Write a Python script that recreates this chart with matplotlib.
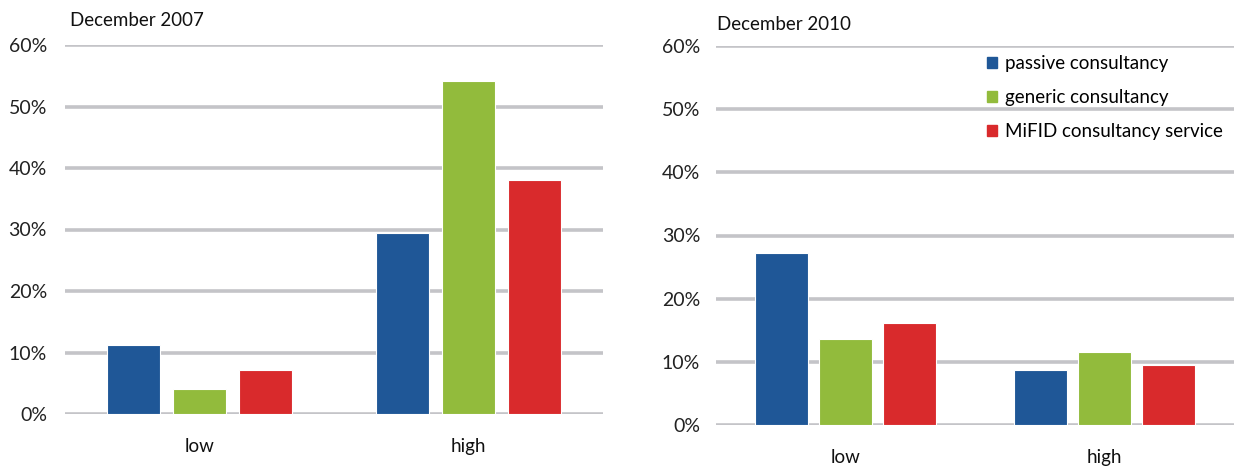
import numpy as np
import matplotlib.pyplot as plt
from matplotlib.patches import Patch

plt.rcParams['font.family'] = ['Lato', 'DejaVu Sans']

groups = ['low', 'high']
series = ['passive consultancy', 'generic consultancy', 'MiFID consultancy service']
colors = ['#1f5797', '#92bb3c', '#d92a2c']
dec2007 = [[11.3, 29.5], [4.1, 54.2], [7.1, 38.1]]
dec2010 = [[27.2, 8.7], [13.6, 11.6], [16.1, 9.5]]
yticks = [0, 10, 20, 30, 40, 50, 60]

fig = plt.figure(figsize=(12.34, 4.70), dpi=100)
ax1 = fig.add_axes([65/1234, 56/470, 538/1234, 369/470])
ax2 = fig.add_axes([716/1234, 45/470, 518/1234, 379/470])

def draw(ax, data, step, width, pad):
    x = np.arange(len(groups))
    for i, vals in enumerate(data):
        ax.bar(x + (i-1)*step, vals, width, color=colors[i], edgecolor='white', linewidth=0.8, zorder=3)
    ax.set_xlim(-0.5, 1.5); ax.set_ylim(0, 60)
    ax.set_yticks(yticks); ax.set_yticklabels([f'{t}%' for t in yticks], fontsize=14, color='#222222')
    ax.set_xticks(x); ax.set_xticklabels(groups, fontsize=13.5, color='#111111')
    ax.tick_params(axis='y', length=0, pad=pad); ax.tick_params(axis='x', length=0, pad=17)
    ax.grid(axis='y', color='#c4c4c8', linewidth=2.6, zorder=0)
    for s in ax.spines.values(): s.set_visible(False)
    ax.set_axisbelow(True)

draw(ax1, dec2007, 0.245, 0.200, 13)
draw(ax2, dec2010, 0.247, 0.205, 11.5)

fig.text(70/1234, 1-20/470, 'December 2007', fontsize=13.5, va='center', ha='left', color='#111111')
fig.text(717/1234, 1-24/470, 'December 2010', fontsize=13.5, va='center', ha='left', color='#111111')

# legend for both panels, top right
handles = [Patch(color=c) for c in colors]
fig.legend(handles, series, loc='upper left', bbox_to_anchor=(978/1234, 1-46/470), frameon=False,
           fontsize=13.5, handlelength=0.5, handleheight=0.5, handletextpad=0.45, labelspacing=0.9, borderpad=0)

fig.savefig('out.png', dpi=100)
